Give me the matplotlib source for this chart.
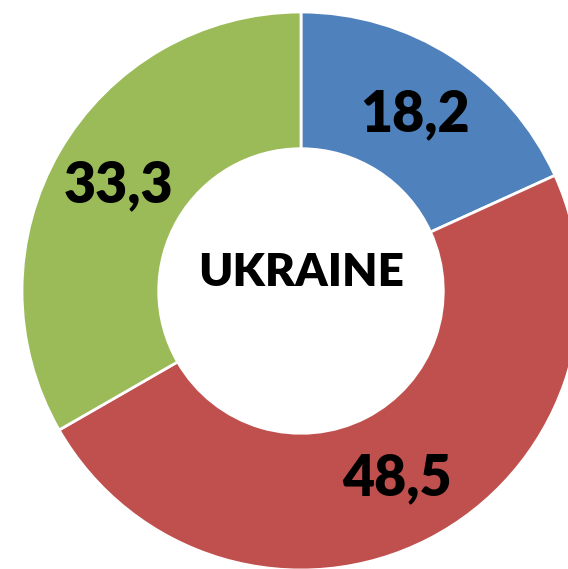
import matplotlib
matplotlib.use("Agg")
import matplotlib.pyplot as plt

categories = ["A", "B", "C"]
values = [18.2, 48.5, 33.3]
value_labels = ["18,2", "48,5", "33,3"]
colors = ["#4F81BD", "#C0504D", "#9BBB59"]
center_title = "UKRAINE"

W, H = 568, 569
fig = plt.figure(figsize=(W / 100, H / 100), dpi=100)
ax = fig.add_axes([0, 0, 1, 1])

cx, cy, R = 301, 291, 279  # pixel center & outer radius
wedges, texts = ax.pie(values, colors=colors, startangle=90, counterclock=False,
                       radius=1.0,
                       wedgeprops=dict(width=0.49, edgecolor="white", linewidth=2),
                       labels=value_labels, labeldistance=0.755,
                       textprops=dict(fontsize=40, fontweight="heavy", family="Lato",
                                      color="black", ha="center", va="center"))
for t in texts:
    t.set_ha("center")
    t.set_va("center")

ax.text(0, 18 / R, center_title, ha="center", va="center", fontsize=33,
        fontweight="heavy", family="Lato", color="black")

ax.set_aspect("auto")
ax.set_xlim(-cx / R, (W - cx) / R)
ax.set_ylim(-(H - cy) / R, cy / R)
ax.axis("off")

fig.savefig("out.png", dpi=100)
